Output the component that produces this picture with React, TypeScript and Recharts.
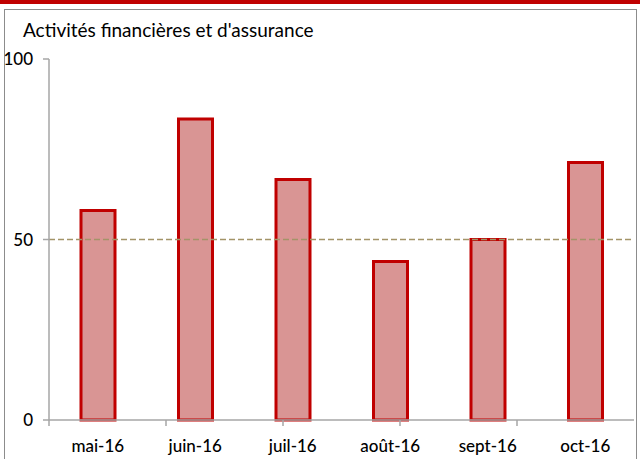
import { BarChart, Bar, XAxis, YAxis, ReferenceLine } from "recharts";

const months = ["mai-16", "juin-16", "juil-16", "août-16", "sept-16", "oct-16"];
const values = [58, 83.4, 66.6, 43.9, 50, 71.3];
const yTicks = [0, 50, 100];
const edgeTicks = [0, 1, 2, 3, 4, 5, 6];

const data = months.map((m, i) => ({ month: m, value: values[i] }));

const FONT = "Lato, 'Open Sans', sans-serif";
const AXIS_GREY = "#a6a6a6";

const noLabel = () => <g />;

export default function App() {
  return (
    <div
      style={{
        position: "absolute",
        left: 0,
        top: 0,
        width: 640,
        height: 459,
        overflow: "hidden",
        background: "#fff",
        fontFamily: FONT,
      }}
    >
      <div style={{ position: "absolute", left: 0, top: 0, width: 640, height: 4, background: "#c00000" }} />
      <div
        style={{
          position: "absolute",
          left: 4,
          top: 9,
          width: 631,
          height: 470,
          border: "1px solid #8c8c8c",
        }}
      />
      <div
        style={{
          position: "absolute",
          left: 23,
          top: 18,
          fontSize: 19,
          color: "#000",
          whiteSpace: "nowrap",
        }}
      >
        Activités financières et d'assurance
      </div>
      <div style={{ position: "absolute", left: 0, top: 0 }}>
        <BarChart
          width={640}
          height={459}
          data={data}
          margin={{ top: 59, right: 6, bottom: 9, left: 0 }}
          barCategoryGap={0}
        >
          {/* boundary ticks between categories, as in the original (id 0 sits next to the plot) */}
          <XAxis
            xAxisId={0}
            type="number"
            domain={[0, 6]}
            ticks={edgeTicks}
            height={1}
            axisLine={{ stroke: AXIS_GREY, strokeWidth: 1.5 }}
            tickLine={{ stroke: AXIS_GREY, strokeWidth: 1.5 }}
            tickSize={6}
            tick={noLabel}
            allowDataOverflow
          />
          <XAxis
            xAxisId="cat"
            dataKey="month"
            height={29}
            axisLine={false}
            tickLine={false}
            tickMargin={13}
            tick={{ fill: "#000", fontSize: 17, fontFamily: FONT, fontWeight: 500 }}
          />
          <YAxis
            width={49}
            domain={[0, 100]}
            ticks={yTicks}
            tickSize={6}
            tickMargin={10}
            axisLine={{ stroke: AXIS_GREY, strokeWidth: 1.5 }}
            tickLine={{ stroke: AXIS_GREY, strokeWidth: 1.5 }}
            tick={{ fill: "#000", fontSize: 17, fontFamily: FONT, fontWeight: 500 }}
          />
          <ReferenceLine y={50} stroke="#a39468" strokeWidth={1.5} strokeDasharray="6 3" />
          <Bar
            xAxisId="cat"
            dataKey="value"
            barSize={34}
            fill="#d99594"
            stroke="#c00000"
            strokeWidth={3}
            isAnimationActive={false}
          />
        </BarChart>
      </div>
    </div>
  );
}
